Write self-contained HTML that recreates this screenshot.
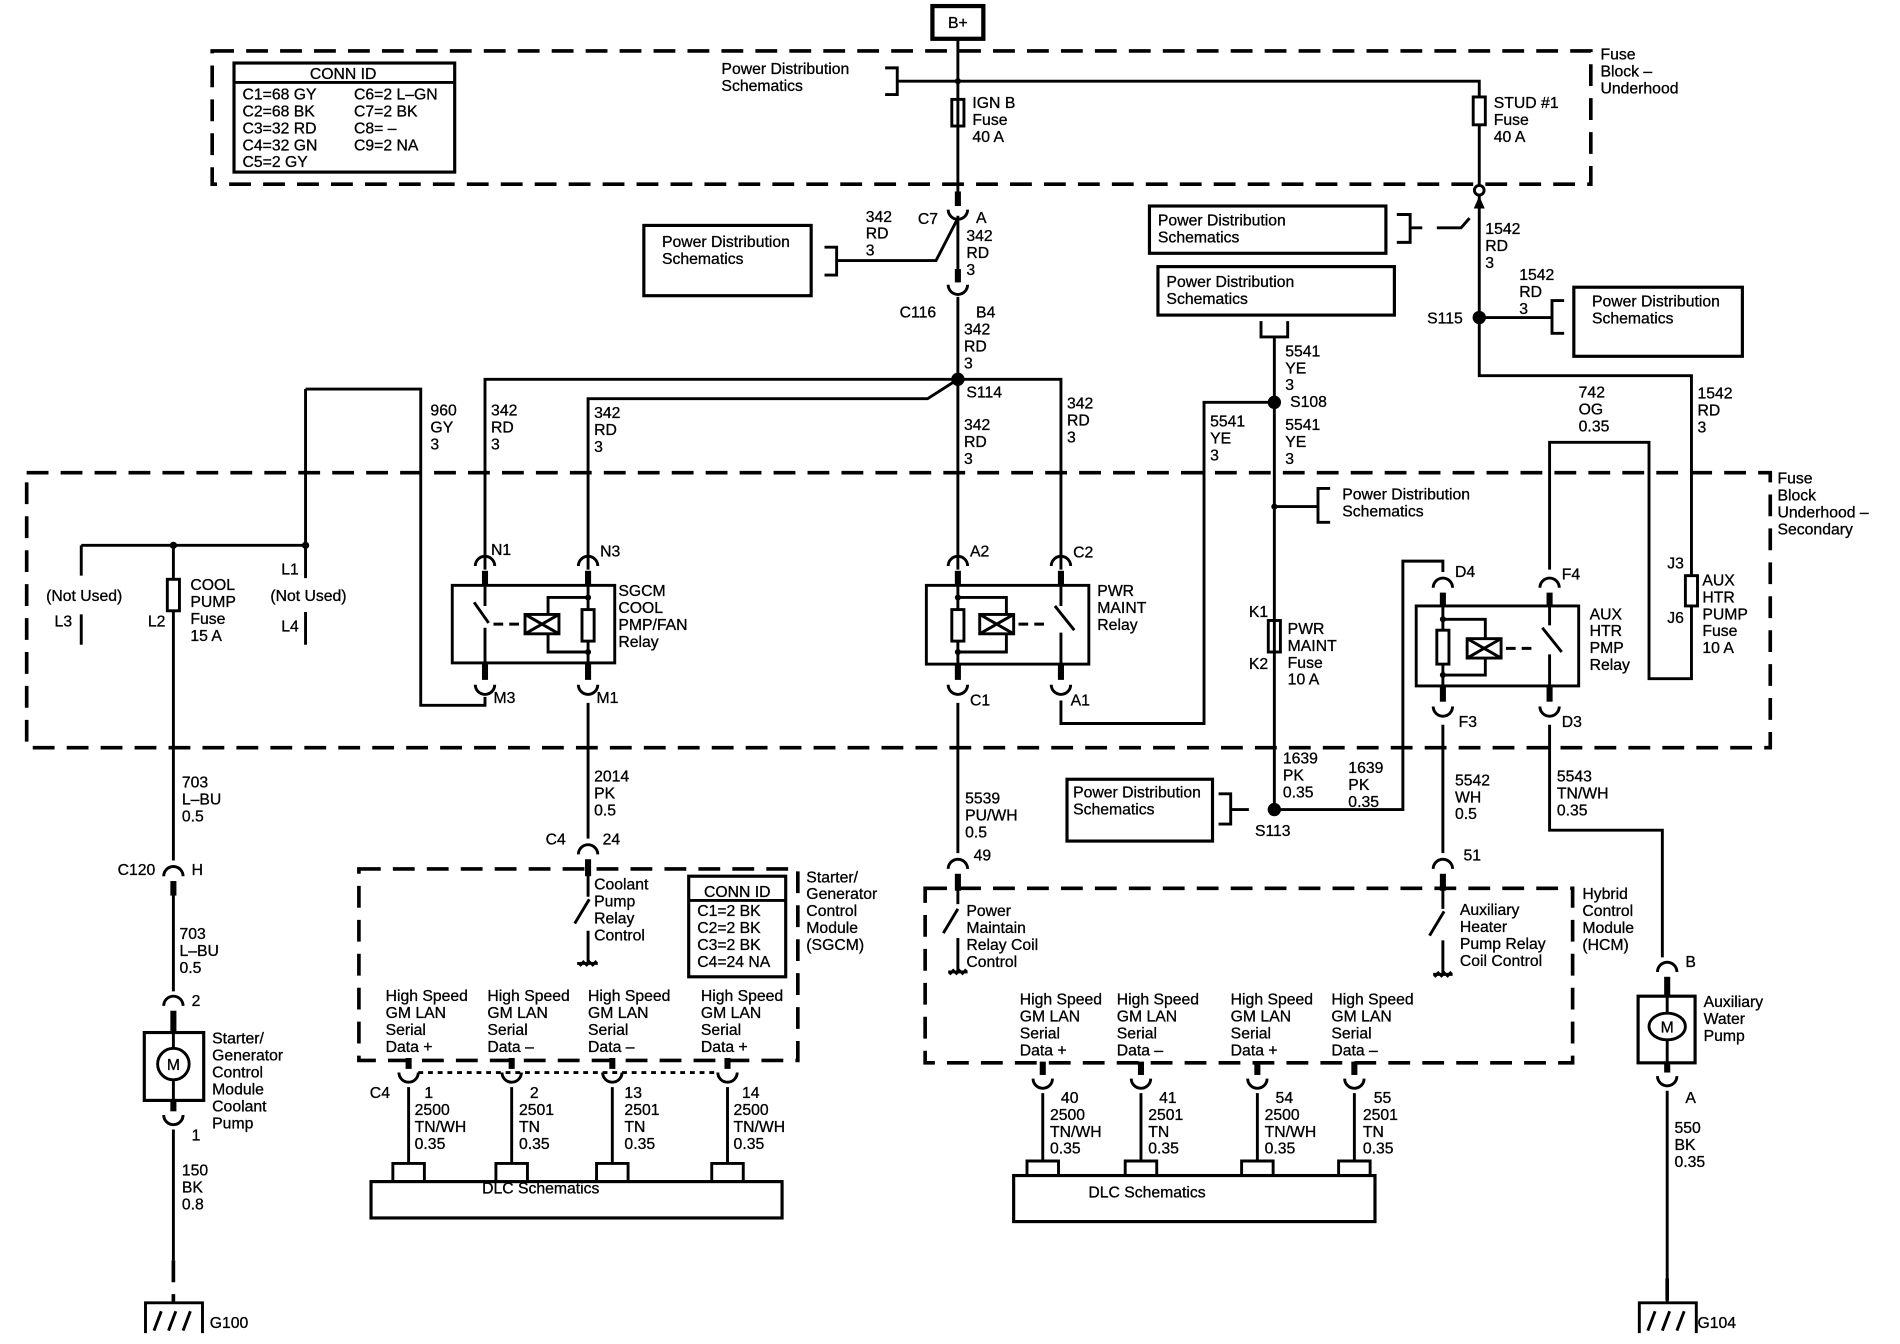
<!DOCTYPE html>
<html><head><meta charset="utf-8"><style>
html,body{margin:0;padding:0;background:#fff}
svg{display:block}
text{font-family:"Liberation Sans",Arial,sans-serif;font-size:13px;fill:#000;stroke:#000;stroke-width:0.25}
</style></head><body>
<svg width="1900" height="1344" viewBox="0 0 1567 1109" preserveAspectRatio="none" xmlns="http://www.w3.org/2000/svg">
<g fill="none" stroke="#000" stroke-width="2.4">
<g stroke-width="3" stroke-dasharray="18 10">
<rect x="175" y="42" width="1137" height="110"/>
<rect x="22" y="390" width="1438" height="227"/>
<rect x="296" y="717" width="362" height="158"/>
<rect x="763" y="733" width="534" height="144"/>
<path d="M143,1040V1075M1375,1055V1075"/>
</g>
<rect x="769" y="5" width="42" height="27" stroke-width="3.5"/>
<path d="M790,32V160"/>
<rect x="193" y="52" width="182" height="90" stroke-width="2.6"/>
<path d="M193,68H375"/>
<path d="M730,56H740V78H730M740,67H1220V80"/>
<rect x="785" y="82" width="10" height="22"/>
<rect x="1215" y="80" width="10" height="23"/>
<path d="M1220,103V153"/>
<circle cx="1220" cy="157" r="4" fill="#fff"/>
<path d="M1220,161V310H1395V475M1395,500V560H1360V365H1278V470"/>
<path d="M1216,172L1220,163L1224,172" fill="#000" stroke-width="1"/>
<rect x="1390" y="475" width="10" height="25"/>
<rect x="948" y="170" width="195" height="39" stroke-width="2.6"/>
<path d="M1152,177H1163V200H1152M1163,188H1173"/>
<path d="M1185,188H1205L1212,180"/>
<rect x="955" y="220" width="195" height="40" stroke-width="2.6"/>
<path d="M1040,265V278H1062V265M1051,278V668"/>
<path d="M1220,262H1280M1290,248H1280V275H1290"/>
<rect x="1298" y="237" width="139" height="57" stroke-width="2.6"/>
<path d="M1051,332H993V597H875V578"/>
<path d="M1051,418H1087M1097,403H1087V431H1097"/>
<rect x="1046" y="512" width="10" height="26"/>
<path d="M1051,668H1157V463H1190V472"/>
<path d="M1015,668H1030M1005,655H1015V680H1005"/>
<rect x="880" y="643" width="120" height="51" stroke-width="2.6"/>
<path d="M790,178V233M790,180L772,215H690M680,204H690V227H680"/>
<rect x="531" y="186" width="138" height="58" stroke-width="2.6"/>
<path d="M790,245V470"/>
<path d="M790,313H400V470M790,313L765,329H485V470M790,313H875V470"/>
<path d="M252,321H347V582H400V575M252,321V477M67,450H252M67,450V475M67,507V532M252,505V532"/>
<path d="M143,450V478M143,504V710"/>
<rect x="138" y="478" width="10" height="26"/>
<rect x="373" y="483" width="134" height="64"/>
<path d="M400,483V500M391,497L403,514M400,518V560"/>
<path d="M407,515H432" stroke-dasharray="8 5"/>
<rect x="433" y="507" width="28" height="16"/>
<path d="M433,507L461,523M433,523L461,507"/>
<path d="M485,483V560M485,493H452V507M452,523V538H485"/>
<rect x="480" y="503" width="10" height="26" fill="#fff"/>
<rect x="764" y="483" width="134" height="65"/>
<path d="M790,483V560M790,493H830V507M830,523V538H790"/>
<rect x="785" y="503" width="10" height="26" fill="#fff"/>
<rect x="808" y="507" width="28" height="16"/>
<path d="M808,507L836,523M808,523L836,507"/>
<path d="M840,515H865" stroke-dasharray="8 5"/>
<path d="M875,483V500M870,500L886,520M875,522V560"/>
<rect x="1168" y="500" width="134" height="66"/>
<path d="M1190,490V578M1190,511H1225V527M1225,543V557H1190"/>
<rect x="1185" y="520" width="10" height="28" fill="#fff"/>
<rect x="1210" y="527" width="28" height="16"/>
<path d="M1210,527L1238,543M1210,543L1238,527"/>
<path d="M1242,535H1265" stroke-dasharray="8 5"/>
<path d="M1278,490V516M1272,518L1288,538M1278,540V578"/>
<path d="M143,730V818M143,932V1040"/>
<rect x="119" y="852" width="49" height="56" stroke-width="2.6"/>
<circle cx="143" cy="878" r="13" fill="#fff"/>
<path d="M143,838V865M143,891V908"/>
<path d="M120,1100V1075H167V1100M143,1068V1075M127,1098L133,1082M139,1098L145,1082M151,1098L157,1082"/>
<path d="M485,580V692M485,712V740M474,762L486,742M485,768V795M478,797L482,793M483,797L487,793M488,797L492,793M476,795H493"/>
<rect x="568" y="723" width="80" height="83" stroke-width="2.6"/>
<path d="M568,743H648"/>
<path d="M790,580V704M790,724V746M778,770L790,750M790,774V802M783,804L787,800M788,804L792,800M793,804L797,800M782,802H798"/>
<path d="M1190,598V704M1190,724V750M1179,772L1191,752M1190,776V804M1183,806L1187,802M1188,806L1192,802M1193,806L1197,802M1182,804H1198"/>
<path d="M1278,598V685H1371V790"/>
<rect x="1351" y="822" width="47" height="55" stroke-width="2.6"/>
<ellipse cx="1375" cy="847" rx="15" ry="11" fill="#fff"/>
<path d="M1375,808V836M1375,858V877M1375,900V1055"/>
<path d="M1352,1100V1075H1399V1100M1375,1068V1075M1359,1098L1365,1082M1371,1098L1377,1082M1383,1098L1389,1082"/>
<path d="M345,885H592" stroke-dasharray="4 4"/>
<path d="M337,897V960M422,897V960M505,897V960M600,897V960"/>
<path d="M324,975V960H350V975M409,975V960H435V975M492,975V960H518V975M587,975V960H613V975"/>
<rect x="306" y="975" width="339" height="30" stroke-width="2.6"/>
<path d="M860,902V958M941,902V958M1037,902V958M1117,902V958"/>
<path d="M847,970V958H873V970M928,970V958H954V970M1024,970V958H1050V970M1104,970V958H1130V970"/>
<rect x="836" y="970" width="298" height="38" stroke-width="2.6"/>
<g>
<path d="M782,173A8,8 0 0 0 798,173M782,235A8,8 0 0 0 798,235"/>
<path d="M392,565A8,8 0 0 0 408,565M477,565A8,8 0 0 0 493,565M782,565A8,8 0 0 0 798,565M867,565A8,8 0 0 0 883,565M1182,583A8,8 0 0 0 1198,583M1270,583A8,8 0 0 0 1286,583"/>
<path d="M135,920A8,8 0 0 0 151,920M1367,888A8,8 0 0 0 1383,888"/>
<path d="M329,885A8,8 0 0 0 345,885M414,885A8,8 0 0 0 430,885M497,885A8,8 0 0 0 513,885M592,885A8,8 0 0 0 608,885"/>
<path d="M852,890A8,8 0 0 0 868,890M933,890A8,8 0 0 0 949,890M1029,890A8,8 0 0 0 1045,890M1109,890A8,8 0 0 0 1125,890"/>
<path d="M392,467A8,8 0 0 1 408,467M477,467A8,8 0 0 1 493,467M782,467A8,8 0 0 1 798,467M867,467A8,8 0 0 1 883,467M1182,485A8,8 0 0 1 1198,485M1270,485A8,8 0 0 1 1286,485"/>
<path d="M477,705A8,8 0 0 1 493,705M782,717A8,8 0 0 1 798,717M1182,717A8,8 0 0 1 1198,717M135,723A8,8 0 0 1 151,723M135,830A8,8 0 0 1 151,830M1367,802A8,8 0 0 1 1383,802"/>
</g>
</g>
<g fill="#000">
<rect x="787.5" y="158" width="5" height="12"/><rect x="787.5" y="222" width="5" height="11"/>
<rect x="397.5" y="547" width="5" height="14"/><rect x="482.5" y="547" width="5" height="14"/><rect x="787.5" y="548" width="5" height="13"/><rect x="872.5" y="548" width="5" height="13"/><rect x="1187.5" y="566" width="5" height="13"/><rect x="1275.5" y="566" width="5" height="13"/>
<rect x="397.5" y="471" width="5" height="12"/><rect x="482.5" y="471" width="5" height="12"/><rect x="787.5" y="471" width="5" height="12"/><rect x="872.5" y="471" width="5" height="12"/><rect x="1187.5" y="489" width="5" height="11"/><rect x="1275.5" y="489" width="5" height="11"/>
<rect x="482.5" y="709" width="5" height="14"/><rect x="787.5" y="721" width="5" height="14"/><rect x="1187.5" y="721" width="5" height="14"/><rect x="140.5" y="727" width="5" height="12"/><rect x="140.5" y="834" width="5" height="18"/><rect x="140.5" y="908" width="5" height="9"/>
<rect x="1372.5" y="806" width="5" height="16"/><rect x="1372.5" y="877" width="5" height="8"/>
<rect x="334.5" y="873" width="5" height="9"/><rect x="419.5" y="873" width="5" height="9"/><rect x="502.5" y="873" width="5" height="9"/><rect x="597.5" y="873" width="5" height="9"/>
<rect x="857.5" y="876" width="5" height="11"/><rect x="938.5" y="876" width="5" height="11"/><rect x="1034.5" y="876" width="5" height="11"/><rect x="1114.5" y="876" width="5" height="11"/>
<circle cx="790" cy="313" r="5.5"/><circle cx="1051" cy="332" r="5.5"/><circle cx="1220" cy="262" r="5.5"/><circle cx="1051" cy="668" r="5.5"/>
<circle cx="790" cy="67" r="2.5"/><circle cx="1051" cy="418" r="2.5"/><circle cx="143" cy="450" r="3"/><circle cx="252" cy="450" r="3"/>
<circle cx="485" cy="493" r="2.5"/><circle cx="485" cy="538" r="2.5"/><circle cx="790" cy="493" r="2.5"/><circle cx="790" cy="538" r="2.5"/><circle cx="1190" cy="511" r="2.5"/><circle cx="1190" cy="557" r="2.5"/>
</g>
<text x="790" y="23" text-anchor="middle" font-size="12">B+</text>
<text x="283" y="65" text-anchor="middle">CONN ID</text>
<text x="200" y="82">C1=68 GY</text><text x="200" y="96">C2=68 BK</text><text x="200" y="110">C3=32 RD</text><text x="200" y="124">C4=32 GN</text><text x="200" y="138">C5=2 GY</text>
<text x="292" y="82">C6=2 L–GN</text><text x="292" y="96">C7=2 BK</text><text x="292" y="110">C8= –</text><text x="292" y="124">C9=2 NA</text>
<text x="595" y="61">Power Distribution</text><text x="595" y="75">Schematics</text>
<text x="802" y="89">IGN B</text><text x="802" y="103">Fuse</text><text x="802" y="117">40 A</text>
<text x="1232" y="89">STUD #1</text><text x="1232" y="103">Fuse</text><text x="1232" y="117">40 A</text>
<text x="1320" y="49">Fuse</text><text x="1320" y="63">Block –</text><text x="1320" y="77">Underhood</text>
<text x="546" y="204">Power Distribution</text><text x="546" y="218">Schematics</text>
<text x="714" y="183">342</text><text x="714" y="197">RD</text><text x="714" y="211">3</text>
<text x="757" y="185">C7</text><text x="805" y="184">A</text>
<text x="797" y="199">342</text><text x="797" y="213">RD</text><text x="797" y="227">3</text>
<text x="742" y="262">C116</text><text x="805" y="262">B4</text>
<text x="795" y="276">342</text><text x="795" y="290">RD</text><text x="795" y="304">3</text>
<text x="797" y="328">S114</text>
<text x="355" y="343">960</text><text x="355" y="357">GY</text><text x="355" y="371">3</text>
<text x="405" y="343">342</text><text x="405" y="357">RD</text><text x="405" y="371">3</text>
<text x="490" y="345">342</text><text x="490" y="359">RD</text><text x="490" y="373">3</text>
<text x="795" y="355">342</text><text x="795" y="369">RD</text><text x="795" y="383">3</text>
<text x="880" y="337">342</text><text x="880" y="351">RD</text><text x="880" y="365">3</text>
<text x="955" y="186">Power Distribution</text><text x="955" y="200">Schematics</text>
<text x="962" y="237">Power Distribution</text><text x="962" y="251">Schematics</text>
<text x="1060" y="294">5541</text><text x="1060" y="308">YE</text><text x="1060" y="322">3</text>
<text x="1064" y="336">S108</text>
<text x="1060" y="355">5541</text><text x="1060" y="369">YE</text><text x="1060" y="383">3</text>
<text x="998" y="352">5541</text><text x="998" y="366">YE</text><text x="998" y="380">3</text>
<text x="1225" y="193">1542</text><text x="1225" y="207">RD</text><text x="1225" y="221">3</text>
<text x="1253" y="231">1542</text><text x="1253" y="245">RD</text><text x="1253" y="259">3</text>
<text x="1177" y="267">S115</text>
<text x="1313" y="253">Power Distribution</text><text x="1313" y="267">Schematics</text>
<text x="1302" y="328">742</text><text x="1302" y="342">OG</text><text x="1302" y="356">0.35</text>
<text x="1400" y="329">1542</text><text x="1400" y="343">RD</text><text x="1400" y="357">3</text>
<text x="1466" y="399">Fuse</text><text x="1466" y="413">Block</text><text x="1466" y="427">Underhood –</text><text x="1466" y="441">Secondary</text>
<text x="1107" y="412">Power Distribution</text><text x="1107" y="426">Schematics</text>
<text x="38" y="496">(Not Used)</text><text x="45" y="517">L3</text><text x="122" y="517">L2</text>
<text x="157" y="487">COOL</text><text x="157" y="501">PUMP</text><text x="157" y="515">Fuse</text><text x="157" y="529">15 A</text>
<text x="232" y="474">L1</text><text x="223" y="496">(Not Used)</text><text x="232" y="521">L4</text>
<text x="405" y="458">N1</text><text x="495" y="459">N3</text><text x="407" y="580">M3</text><text x="492" y="580">M1</text>
<text x="510" y="492">SGCM</text><text x="510" y="506">COOL</text><text x="510" y="520">PMP/FAN</text><text x="510" y="534">Relay</text>
<text x="800" y="459">A2</text><text x="885" y="460">C2</text><text x="800" y="582">C1</text><text x="883" y="582">A1</text>
<text x="905" y="492">PWR</text><text x="905" y="506">MAINT</text><text x="905" y="520">Relay</text>
<text x="1030" y="509">K1</text><text x="1030" y="552">K2</text>
<text x="1062" y="523">PWR</text><text x="1062" y="537">MAINT</text><text x="1062" y="551">Fuse</text><text x="1062" y="565">10 A</text>
<text x="1200" y="476">D4</text><text x="1288" y="478">F4</text><text x="1203" y="600">F3</text><text x="1288" y="600">D3</text>
<text x="1311" y="511">AUX</text><text x="1311" y="525">HTR</text><text x="1311" y="539">PMP</text><text x="1311" y="553">Relay</text>
<text x="1375" y="469">J3</text><text x="1375" y="514">J6</text>
<text x="1404" y="483">AUX</text><text x="1404" y="497">HTR</text><text x="1404" y="511">PUMP</text><text x="1404" y="525">Fuse</text><text x="1404" y="539">10 A</text>
<text x="1058" y="630">1639</text><text x="1058" y="644">PK</text><text x="1058" y="658">0.35</text>
<text x="1112" y="638">1639</text><text x="1112" y="652">PK</text><text x="1112" y="666">0.35</text>
<text x="885" y="658">Power Distribution</text><text x="885" y="672">Schematics</text>
<text x="1035" y="690">S113</text>
<text x="150" y="650">703</text><text x="150" y="664">L–BU</text><text x="150" y="678">0.5</text>
<text x="97" y="722">C120</text><text x="158" y="722">H</text>
<text x="148" y="775">703</text><text x="148" y="789">L–BU</text><text x="148" y="803">0.5</text>
<text x="158" y="830">2</text>
<text x="175" y="861">Starter/</text><text x="175" y="875">Generator</text><text x="175" y="889">Control</text><text x="175" y="903">Module</text><text x="175" y="917">Coolant</text><text x="175" y="931">Pump</text>
<text x="143" y="883" text-anchor="middle" font-size="12">M</text>
<text x="158" y="941">1</text>
<text x="150" y="970">150</text><text x="150" y="984">BK</text><text x="150" y="998">0.8</text>
<text x="173" y="1096">G100</text>
<text x="490" y="645">2014</text><text x="490" y="659">PK</text><text x="490" y="673">0.5</text>
<text x="450" y="697">C4</text><text x="497" y="697">24</text>
<text x="490" y="734">Coolant</text><text x="490" y="748">Pump</text><text x="490" y="762">Relay</text><text x="490" y="776">Control</text>
<text x="608" y="740" text-anchor="middle">CONN ID</text>
<text x="575" y="756">C1=2 BK</text><text x="575" y="770">C2=2 BK</text><text x="575" y="784">C3=2 BK</text><text x="575" y="798">C4=24 NA</text>
<text x="665" y="728">Starter/</text><text x="665" y="742">Generator</text><text x="665" y="756">Control</text><text x="665" y="770">Module</text><text x="665" y="784">(SGCM)</text>
<text x="318" y="826">High Speed</text><text x="318" y="840">GM LAN</text><text x="318" y="854">Serial</text><text x="318" y="868">Data +</text>
<text x="402" y="826">High Speed</text><text x="402" y="840">GM LAN</text><text x="402" y="854">Serial</text><text x="402" y="868">Data –</text>
<text x="485" y="826">High Speed</text><text x="485" y="840">GM LAN</text><text x="485" y="854">Serial</text><text x="485" y="868">Data –</text>
<text x="578" y="826">High Speed</text><text x="578" y="840">GM LAN</text><text x="578" y="854">Serial</text><text x="578" y="868">Data +</text>
<text x="305" y="906">C4</text>
<text x="350" y="906">1</text><text x="342" y="920">2500</text><text x="342" y="934">TN/WH</text><text x="342" y="948">0.35</text>
<text x="437" y="906">2</text><text x="428" y="920">2501</text><text x="428" y="934">TN</text><text x="428" y="948">0.35</text>
<text x="515" y="906">13</text><text x="515" y="920">2501</text><text x="515" y="934">TN</text><text x="515" y="948">0.35</text>
<text x="612" y="906">14</text><text x="605" y="920">2500</text><text x="605" y="934">TN/WH</text><text x="605" y="948">0.35</text>
<text x="446" y="985" text-anchor="middle">DLC Schematics</text>
<text x="796" y="663">5539</text><text x="796" y="677">PU/WH</text><text x="796" y="691">0.5</text>
<text x="803" y="710">49</text>
<text x="797" y="756">Power</text><text x="797" y="770">Maintain</text><text x="797" y="784">Relay Coil</text><text x="797" y="798">Control</text>
<text x="1200" y="648">5542</text><text x="1200" y="662">WH</text><text x="1200" y="676">0.5</text>
<text x="1207" y="710">51</text>
<text x="1204" y="755">Auxiliary</text><text x="1204" y="769">Heater</text><text x="1204" y="783">Pump Relay</text><text x="1204" y="797">Coil Control</text>
<text x="1305" y="742">Hybrid</text><text x="1305" y="756">Control</text><text x="1305" y="770">Module</text><text x="1305" y="784">(HCM)</text>
<text x="841" y="829">High Speed</text><text x="841" y="843">GM LAN</text><text x="841" y="857">Serial</text><text x="841" y="871">Data +</text>
<text x="921" y="829">High Speed</text><text x="921" y="843">GM LAN</text><text x="921" y="857">Serial</text><text x="921" y="871">Data –</text>
<text x="1015" y="829">High Speed</text><text x="1015" y="843">GM LAN</text><text x="1015" y="857">Serial</text><text x="1015" y="871">Data +</text>
<text x="1098" y="829">High Speed</text><text x="1098" y="843">GM LAN</text><text x="1098" y="857">Serial</text><text x="1098" y="871">Data –</text>
<text x="875" y="910">40</text><text x="866" y="924">2500</text><text x="866" y="938">TN/WH</text><text x="866" y="952">0.35</text>
<text x="956" y="910">41</text><text x="947" y="924">2501</text><text x="947" y="938">TN</text><text x="947" y="952">0.35</text>
<text x="1052" y="910">54</text><text x="1043" y="924">2500</text><text x="1043" y="938">TN/WH</text><text x="1043" y="952">0.35</text>
<text x="1133" y="910">55</text><text x="1124" y="924">2501</text><text x="1124" y="938">TN</text><text x="1124" y="952">0.35</text>
<text x="946" y="988" text-anchor="middle">DLC Schematics</text>
<text x="1284" y="645">5543</text><text x="1284" y="659">TN/WH</text><text x="1284" y="673">0.35</text>
<text x="1390" y="798">B</text>
<text x="1375" y="852" text-anchor="middle" font-size="12">M</text>
<text x="1405" y="831">Auxiliary</text><text x="1405" y="845">Water</text><text x="1405" y="859">Pump</text>
<text x="1390" y="910">A</text>
<text x="1381" y="935">550</text><text x="1381" y="949">BK</text><text x="1381" y="963">0.35</text>
<text x="1400" y="1096">G104</text>
</svg>
</body></html>
